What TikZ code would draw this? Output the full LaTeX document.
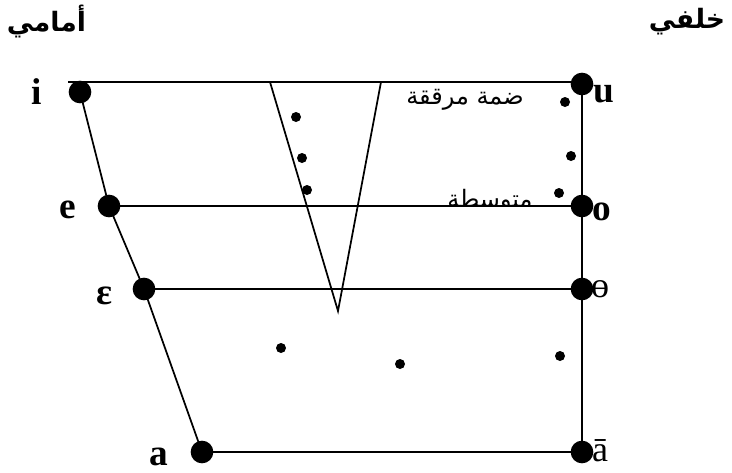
\documentclass[tikz,border=0pt]{standalone}
\usepackage{fontspec}
\setmainfont{Liberation Serif}
\newfontfamily\arabicfont[Script=Arabic]{DejaVu Sans}
\TeXXeTstate=1
\usetikzlibrary{positioning}

\begin{document}
\begin{tikzpicture}[x=0.75pt,y=-0.75pt,line width=1.3pt,
  bigdot/.style={circle,fill,inner sep=0pt,minimum size=17pt},
  smalldot/.style={circle,fill,inner sep=0pt,minimum size=7.5pt},
  vowel/.style={inner sep=0pt,font=\fontsize{28}{28}\selectfont\bfseries},
  vowelreg/.style={inner sep=0pt,font=\fontsize{27}{27}\selectfont},
  arlabel/.style={inner sep=0pt,font=\fontsize{18}{18}\selectfont\arabicfont},
  arhead/.style={inner sep=0pt,font=\fontsize{20}{20}\selectfont\arabicfont\bfseries}]
\useasboundingbox (0,0) rectangle (732,472);
% headings
\node[arhead,anchor=west] (front) at (6,22) {\beginR أمامي\endR};
\node[arhead,anchor=east] (back) at (726,22) {\beginR خلفي\endR};
% corner vowels
\node[bigdot] (i) at (80,92) {};
\node[bigdot] (e) at (109,206) {};
\node[bigdot] (eps) at (144,289) {};
\node[bigdot] (a) at (202,452) {};
\node[bigdot] (u) at (582,84) {};
\node[bigdot] (o) at (582,206) {};
\node[bigdot] (oo) at (582,289) {};
\node[bigdot] (abar) at (582,452) {};
\coordinate (topleft) at (68,82);
\coordinate (vl) at (270,82);
\coordinate (vr) at (381,82);
\coordinate (vb) at (338,311);
% chart lines
\draw (topleft) -- (u.center |- topleft);
\draw (i.center) -- (e.center) -- (eps.center) -- (a.center);
\draw (e.center) -- (o.center);
\draw (eps.center) -- (oo.center);
\draw (a.center) -- (abar.center);
\draw (u.center |- topleft) -- (abar.center);
\draw (vl) -- (vb) -- (vr);
% small dots
\node[smalldot] (d1) at (296,117) {};
\node[smalldot] (d2) at (302,158) {};
\node[smalldot] (d3) at (307,190) {};
\node[smalldot] (d4) at (565,102) {};
\node[smalldot] (d5) at (571,156) {};
\node[smalldot] (d6) at (559,193) {};
\node[smalldot] (d7) at (281,348) {};
\node[smalldot] (d8) at (400,364) {};
\node[smalldot] (d9) at (560,356) {};
% symbols
\node[vowel] (li) at (37,92) {i};
\node[vowel] (le) at (68,210) {e};
\node[vowel] (leps) at (104,296) {ε};
\node[vowel] (la) at (159,457) {a};
\node[vowel] (lu) at (604,94) {u};
\node[vowel] (lo) at (602,212) {o};
\node[vowelreg] (loo) at (600,289) {ɵ};
\node[vowelreg] (labar) at (600,451) {ā};
% arabic labels
\node[arlabel] (soft) at (465,100) {\beginR ضمة مرققة\endR};
\begin{scope}
\clip (430,170) rectangle (545,205);
\node[arlabel] (mid) at (490,201) {\beginR متوسطة\endR};
\end{scope}
\end{tikzpicture}
\end{document}
